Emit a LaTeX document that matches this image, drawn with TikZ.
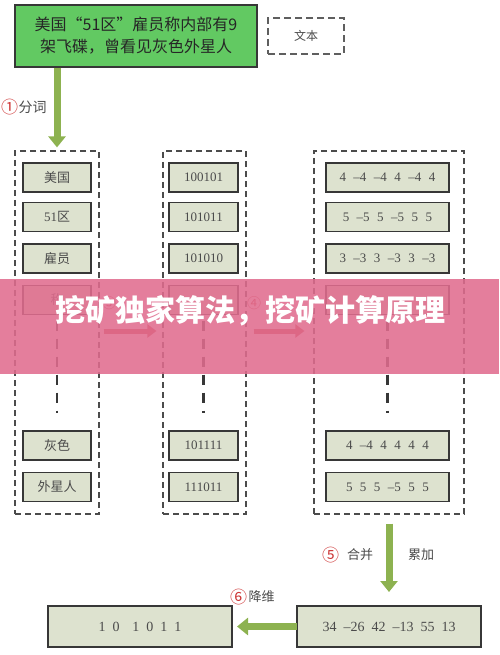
\documentclass[tikz,border=0pt]{standalone}
\usepackage{fontspec}
\setmainfont{Liberation Serif}
\newfontfamily\cjk{Noto Sans CJK SC}
\usetikzlibrary{arrows.meta,shadows}
\definecolor{boxfill}{RGB}{221,226,207}
\definecolor{boxline}{RGB}{55,55,55}
\definecolor{topgreen}{RGB}{98,201,98}
\definecolor{arrowgreen}{RGB}{141,178,80}
\definecolor{txtgray}{RGB}{75,75,75}
\definecolor{numred}{RGB}{205,55,55}
\definecolor{arrowred}{RGB}{200,70,75}
\definecolor{bannerpink}{RGB}{224,108,142}
\newcommand{\gp}{\hspace{7.5pt}}
\tikzset{
  cell/.style={draw=boxline, line width=1.4pt, fill=boxfill, inner sep=0pt, outer sep=0pt,
    text=txtgray, font=\fontsize{13}{15}\selectfont,
    drop shadow={shadow xshift=0.8pt, shadow yshift=-0.8pt, fill=black!60, opacity=.4}},
  col/.style={draw=boxline!90, line width=1.2pt, dash pattern=on 6pt off 4pt, inner sep=0pt},
  garrow/.style={draw=arrowgreen, line width=7pt, -{Triangle[width=17pt,length=11pt]}},
  rarrow/.style={draw=arrowred, line width=5pt, -{Triangle[width=13pt,length=9pt]}},
  vdash/.style={draw=boxline, line width=2.5pt, dash pattern=on 10pt off 8pt},
  lbl/.style={text=txtgray, font=\fontsize{13}{15}\selectfont\cjk, inner sep=0pt},
  circ/.style={text=numred, font=\fontsize{17}{18}\selectfont\cjk, inner sep=0pt}
}
\begin{document}
\begin{tikzpicture}[x=1pt,y=-1pt]
\useasboundingbox (0,0) rectangle (499,655);
% top
\node[draw=boxline, line width=1.4pt, fill=topgreen, minimum width=242pt, minimum height=62pt,
  align=center, text=black!85, font=\fontsize{16}{22}\selectfont\cjk, inner sep=0pt] (top) at (136,36)
  {美国“51区”雇员称内部有9\\架飞碟，曾看见灰色外星人};
\node[draw=boxline!80, line width=1.3pt, dash pattern=on 7pt off 4pt, minimum width=76pt, minimum height=36pt,
  text=txtgray, font=\fontsize{12}{14}\selectfont\cjk, inner sep=0pt] (wb) at (306,36) {文本};
% containers
\node[col, minimum width=84pt, minimum height=363pt] (c1) at (57,332.5) {};
\node[col, minimum width=83pt, minimum height=363pt] (c2) at (204.5,332.5) {};
\node[col, minimum width=150pt, minimum height=363pt] (c3) at (389,332.5) {};
% column 1
\begin{scope}[every node/.append style={cell, minimum width=68pt, minimum height=29pt, font=\fontsize{13}{15}\selectfont\cjk}]
\node (a1) at (57,177.5) {美国};
\node (a2) at (57,217) {{\rmfamily 51}区};
\node (a3) at (57,258.5) {雇员};
\node (a4) at (57,300) {称};
\node (a5) at (57,445.5) {灰色};
\node (a6) at (57,487) {外星人};
\end{scope}
% column 2
\begin{scope}[every node/.append style={cell, minimum width=69pt, minimum height=29pt}]
\node (b1) at (203.5,177.5) {100101};
\node (b2) at (203.5,217) {101011};
\node (b3) at (203.5,258.5) {101010};
\node (b4) at (203.5,300) {};
\node (b5) at (203.5,445.5) {101111};
\node (b6) at (203.5,487) {111011};
\end{scope}
% column 3
\begin{scope}[every node/.append style={cell, minimum width=123pt, minimum height=29pt}]
\node (d1) at (387.5,177.5) {4\gp–4\gp–4\gp4\gp–4\gp4};
\node (d2) at (387.5,217) {5\gp–5\gp5\gp–5\gp5\gp5};
\node (d3) at (387.5,258.5) {3\gp–3\gp3\gp–3\gp3\gp–3};
\node (d4) at (387.5,300) {};
\node (d5) at (387.5,445.5) {4\gp–4\gp4\gp4\gp4\gp4};
\node (d6) at (387.5,487) {5\gp5\gp5\gp–5\gp5\gp5};
\end{scope}
% vertical dashes
\draw[vdash] ([yshift=-6pt]a4.south) -- ([yshift=18pt]a5.north);
\draw[vdash] ([yshift=-6pt]b4.south) -- ([yshift=18pt]b5.north);
\draw[vdash] ([yshift=-6pt]d4.south) -- ([yshift=18pt]d5.north);
% bottom
\node[cell, minimum width=184pt, minimum height=41pt, font=\fontsize{14}{16}\selectfont] (bl) at (140,626.5)
  {1\hspace{7pt}0\hspace{13pt}1\hspace{7pt}0\hspace{7pt}1\hspace{7pt}1};
\node[cell, minimum width=184pt, minimum height=41pt, font=\fontsize{14}{16}\selectfont] (br) at (389,626.5)
  {34\hspace{7pt}–26\hspace{7pt}42\hspace{7pt}–13\hspace{7pt}55\hspace{7pt}13};
% arrows
\draw[garrow] (c1.north |- top.south) -- ([yshift=3pt]c1.north);
\coordinate (ry) at (0,331);
\draw[rarrow, shorten <=4pt, shorten >=6pt] (c1.east |- ry) -- (c2.west |- ry);
\draw[rarrow, shorten <=7pt, shorten >=9pt] (c2.east |- ry) -- (c3.west |- ry);
\draw[garrow] ([yshift=-9pt]c3.south -| br.north) -- ([yshift=14pt]br.north);
\draw[garrow, shorten >=5pt] (br.west) -- (bl.east);
% labels
\node[circ, anchor=west] (n1) at (1,107) {①};
\node[lbl, anchor=west, font=\fontsize{14}{15}\selectfont\cjk] (t1) at (n1.east) {分词};
\node[circ, font=\fontsize{14}{15}\selectfont\cjk] (n3) at (109,303) {③};
\node[circ, font=\fontsize{14}{15}\selectfont\cjk] (n4) at (254,303) {④};
\node[circ, anchor=west] (n5) at (322,555) {⑤};
\node[lbl, anchor=west] (t5) at (347,555) {合并};
\node[lbl, anchor=west] (t5b) at (408,555) {累加};
\node[circ, anchor=west] (n6) at (230,597) {⑥};
\node[lbl, anchor=west] (t6) at ([xshift=1pt]n6.east) {降维};
% banner
\fill[bannerpink, opacity=0.88] (0,279) rectangle (499,374);
\node[text=white, font=\fontsize{30}{31}\selectfont\cjk\bfseries, inner sep=0pt] (bt) at (250,311)
  {挖矿独家算法，挖矿计算原理};
\end{tikzpicture}
\end{document}
